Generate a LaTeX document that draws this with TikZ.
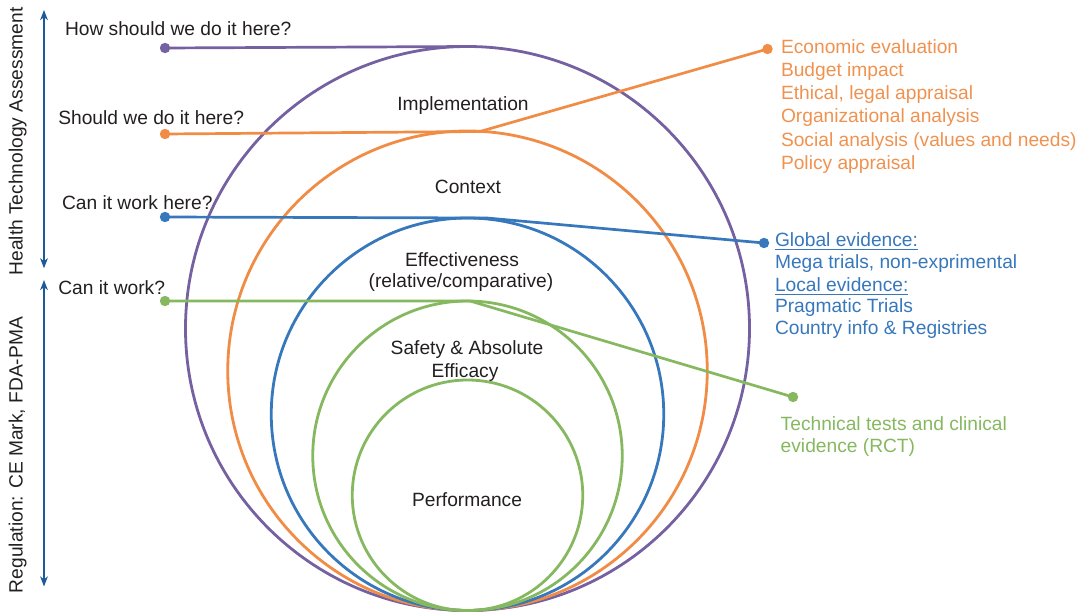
\documentclass[tikz,border=0pt]{standalone}
\usepackage{fontspec}
\setmainfont{Liberation Sans}
\usetikzlibrary{arrows.meta}

\definecolor{cpurple}{HTML}{7561A1}
\definecolor{corange}{HTML}{F08C45}
\definecolor{corangetext}{HTML}{F0924F}
\definecolor{cblue}{HTML}{3777BB}
\definecolor{cgreen}{HTML}{86B860}
\definecolor{carrow}{HTML}{1E5A99}
\definecolor{ctext}{HTML}{231F20}

\begin{document}
\begin{tikzpicture}[x=0.5pt,y=-0.5pt,
  every node/.style={font=\fontsize{9.6}{11.5}\selectfont, inner sep=0pt, outer sep=0pt, text=ctext},
  ring/.style={draw, circle, line width=1.4pt, inner sep=0pt, outer sep=0pt, minimum size=#1},
  link/.style={line width=1.35pt, line join=round},
  dot/.style={fill, circle, inner sep=0pt, minimum size=5.2pt},
  span/.style={draw=carrow, line width=0.8pt,
    {Stealth[length=5pt,width=3.8pt,inset=1.4pt]}-{Stealth[length=5pt,width=3.8pt,inset=1.4pt]}},
  qlabel/.style={anchor=base west},
  clabel/.style={anchor=base},
  side/.style={anchor=base, rotate=90},
]
\useasboundingbox (0,0) rectangle (1090,615);

% nested rings, all tangent at the bottom point
\node[ring=282pt,    draw=cpurple] (rp)  at (467.5,328.5)  {};
\node[ring=239.75pt, draw=corange] (ro)  at (467.5,370.75) {};
\node[ring=196.25pt, draw=cblue]   (rb)  at (467.5,414.25) {};
\node[ring=154.75pt, draw=cgreen]  (rg1) at (467.5,455.75) {};
\node[ring=115.25pt, draw=cgreen]  (rg2) at (467.5,495.25) {};

% ring captions
\node[clabel] (limpl) at (463,111) {Implementation};
\node[clabel] (lctx)  at (468,193) {Context};
\node[clabel] (leff1) at (462,266) {Effectiveness};
\node[clabel] (leff2) at (461,287.5) {(relative/comparative)};
\node[clabel] (lsaf1) at (467,354.5) {Safety \& Absolute};
\node[clabel] (lsaf2) at (465,377) {Efficacy};
\node[clabel] (lperf) at (467,506) {Performance};

% questions on the left
\node[qlabel] (q1) at (65,35.3)  {How should we do it here?};
\node[qlabel] (q2) at (58.3,124.7) {Should we do it here?};
\node[qlabel] (q3) at (62,209)   {Can it work here?};
\node[qlabel] (q4) at (58.3,294.3) {Can it work?};

% end dots
\node[dot, fill=cpurple] (pq) at (165,48) {};
\node[dot, fill=corange] (oq) at (165,134) {};
\node[dot, fill=corange] (oe) at (767.5,49) {};
\node[dot, fill=cblue]   (bq) at (165,217) {};
\node[dot, fill=cblue]   (be) at (764,243) {};
\node[dot, fill=cgreen]  (gq) at (165,301) {};
\node[dot, fill=cgreen]  (ge) at (793,397) {};

% junctions near the ring tops
\coordinate (oj) at (480,131.5);
\coordinate (bj) at (487,218);
\coordinate (gj) at (470,301);

% connectors
\draw[link, cpurple] (pq.center) -- (rp.north);
\draw[link, corange] (oq.center) -- (oj) -- (oe.center);
\draw[link, cblue]   (bq.center) -- (bj) -- (be.center);
\draw[link, cgreen]  (gq.center) -- (gj) -- (ge.center);

% orange list
\foreach \t [count=\i from 0] in {Economic evaluation, Budget impact,
    {Ethical, legal appraisal}, Organizational analysis,
    Social analysis (values and needs), Policy appraisal}
  \node[qlabel, text=corangetext] (ol\i) at (781,53.3+23.2*\i) {\t};

% blue list
\node[qlabel, text=cblue] (bl0) at (775,246) {\underline{Global evidence:}};
\node[qlabel, text=cblue] (bl1) at (775,268.5) {Mega trials, non-exprimental};
\node[qlabel, text=cblue] (bl2) at (775,291) {\underline{Local evidence:}};
\node[qlabel, text=cblue] (bl3) at (775,312.8) {Pragmatic Trials};
\node[qlabel, text=cblue] (bl4) at (775,334.3) {Country info \& Registries};

% green list
\node[qlabel, text=cgreen] (gl0) at (780.7,430) {Technical tests and clinical};
\node[qlabel, text=cgreen] (gl1) at (780.7,452.3) {evidence (RCT)};

% side spans
\coordinate (htatop) at (44,10);
\coordinate (htabot) at (44,268.3);
\coordinate (regtop) at (44,280);
\coordinate (regbot) at (44,586.5);
\draw[span] (htatop) -- (htabot);
\draw[span] (regtop) -- (regbot);
\node[side] (hta) at (22.7,141.5) {Health Technology Assessment};
\node[side] (reg) at (22.7,455) {Regulation: CE Mark, FDA-PMA};
\end{tikzpicture}
\end{document}
